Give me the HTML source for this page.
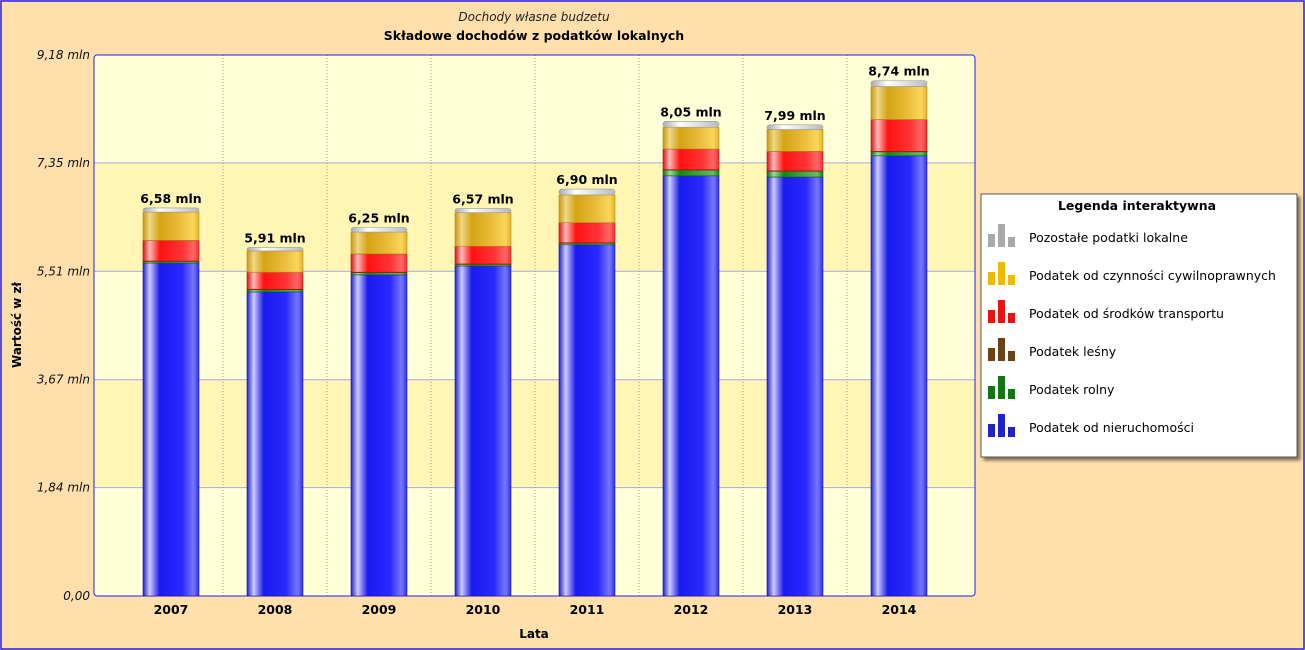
<!DOCTYPE html>
<html><head><meta charset="utf-8"><style>
body{margin:0;background:#FFDFAB;}
svg{display:block;font-family:"DejaVu Sans","Liberation Sans",sans-serif;}
</style></head><body>
<svg id="c" width="1305" height="650" viewBox="0 0 1305 650" xmlns="http://www.w3.org/2000/svg">
<defs>
<linearGradient id="gBlue" x1="0" x2="1"><stop offset="0" stop-color="#2222cc"/><stop offset="0.12" stop-color="#ccccff"/><stop offset="0.3" stop-color="#1a1aee"/><stop offset="0.7" stop-color="#2a2aff"/><stop offset="0.9" stop-color="#7777ff"/><stop offset="1" stop-color="#3333dd"/></linearGradient>
<linearGradient id="gGreen" x1="0" x2="1"><stop offset="0" stop-color="#116611"/><stop offset="0.12" stop-color="#99dd99"/><stop offset="0.3" stop-color="#118811"/><stop offset="0.9" stop-color="#66bb66"/><stop offset="1" stop-color="#227722"/></linearGradient>
<linearGradient id="gBrown" x1="0" x2="1"><stop offset="0" stop-color="#5a3a10"/><stop offset="0.5" stop-color="#8a5a20"/><stop offset="1" stop-color="#5a3a10"/></linearGradient>
<linearGradient id="gRed" x1="0" x2="1"><stop offset="0" stop-color="#dd1111"/><stop offset="0.12" stop-color="#ffbbbb"/><stop offset="0.3" stop-color="#ff1111"/><stop offset="0.7" stop-color="#ff3333"/><stop offset="0.9" stop-color="#ff6666"/><stop offset="1" stop-color="#ee3333"/></linearGradient>
<linearGradient id="gGold" x1="0" x2="1"><stop offset="0" stop-color="#c89a10"/><stop offset="0.12" stop-color="#f0d888"/><stop offset="0.3" stop-color="#d4a214"/><stop offset="0.7" stop-color="#eec040"/><stop offset="0.9" stop-color="#fad65a"/><stop offset="1" stop-color="#e2b430"/></linearGradient>
<linearGradient id="gGray" x1="0" x2="1"><stop offset="0" stop-color="#aaaaaa"/><stop offset="0.3" stop-color="#ffffff"/><stop offset="1" stop-color="#bbbbbb"/></linearGradient>
<filter id="sh" x="-5%" y="-5%" width="115%" height="115%"><feDropShadow dx="3" dy="3" stdDeviation="1.5" flood-color="#000" flood-opacity="0.5"/></filter>
</defs>
<rect x="1" y="1" width="1303" height="648" fill="#FFDFAB" stroke="#2222ee" stroke-width="1.5"/>
<text x="534" y="21" font-size="12" font-style="italic" text-anchor="middle" fill="#222">Dochody własne budzetu</text>
<text x="534" y="40" font-size="12.5" font-weight="bold" text-anchor="middle" fill="#000">Składowe dochodów z podatków lokalnych</text>
<g id="plot"></g>
<text x="534" y="638" font-size="12" font-weight="bold" text-anchor="middle">Lata</text>
<text transform="translate(21,325) rotate(-90)" font-size="12" font-weight="bold" text-anchor="middle">Wartość w zł</text>
<g id="legend"></g>
</svg>
<script>
const categories=["2007","2008","2009","2010","2011","2012","2013","2014"];
const seriesNames=["Podatek od nieruchomości","Podatek rolny","Podatek leśny","Podatek od środków transportu","Podatek od czynności cywilnoprawnych","Pozostałe podatki lokalne"];
const nieruchomosci=[5.65,5.16,5.45,5.60,5.96,7.13,7.11,7.47];
const rolny=[0.03,0.04,0.04,0.03,0.03,0.10,0.10,0.07];
const lesny=[0.005,0.005,0.005,0.005,0.005,0.005,0.005,0.005];
const transport=[0.35,0.29,0.31,0.30,0.34,0.35,0.33,0.54];
const czynnosci=[0.48,0.36,0.37,0.57,0.47,0.37,0.37,0.56];
const pozostale=[0.07,0.06,0.08,0.07,0.10,0.10,0.08,0.10];
const totalLabels=["6,58 mln","5,91 mln","6,25 mln","6,57 mln","6,90 mln","8,05 mln","7,99 mln","8,74 mln"];
const yTicks=[0,1.84,3.67,5.51,7.35,9.18];
const yTickLabels=["0,00","1,84 mln","3,67 mln","5,51 mln","7,35 mln","9,18 mln"];
const series=[nieruchomosci,rolny,lesny,transport,czynnosci,pozostale];
const fills=["url(#gBlue)","url(#gGreen)","url(#gBrown)","url(#gRed)","url(#gGold)","url(#gGray)"];
const edges=["#1111aa","#116611","#5a3a10","#bb1111","#b08a10","#999"];
const legendCols=["#2222cc","#117711","#6b4218","#ee1111","#f0b800","#aaaaaa"];
const X0=94,X1=975,Y0=596,Y1=55,YMAX=9.18;
const C0=119,C1=951;
const NS="http://www.w3.org/2000/svg";
const y=v=>Y0-(v/YMAX)*(Y0-Y1);
const bw=(C1-C0)/categories.length;
const xc=i=>C0+bw*(i+0.5);
function mk(tag,attrs,parent){const e=document.createElementNS(NS,tag);for(const k in attrs)e.setAttribute(k,attrs[k]);parent.appendChild(e);return e;}
const plot=document.getElementById('plot');
const bg=mk('rect',{x:X0,y:Y1,width:X1-X0,height:Y0-Y1,fill:"#FFFFD8"},plot);


for(let k=0;k<yTicks.length-1;k++){
  if(k%2===1){const b=mk('rect',{x:X0,y:y(yTicks[k+1]),width:X1-X0,height:y(yTicks[k])-y(yTicks[k+1]),fill:"#FFF5B4"},plot);
  
  }
}
yTicks.forEach((t,k)=>{
  if(k>0&&k<yTicks.length-1){const g=mk('line',{x1:X0,x2:X1,y1:y(t),y2:y(t),stroke:"#aaaadd","stroke-width":1},plot);
  
  }
  const tl=mk('text',{x:X0-4,y:y(t)+4,"font-size":12,"font-style":"italic","text-anchor":"end",fill:"#111"},plot);
  tl.textContent=yTickLabels[k];
  
  
});
for(let i=1;i<categories.length;i++){
  const v=mk('line',{x1:C0+bw*i,x2:C0+bw*i,y1:Y1,y2:Y0,stroke:"#999","stroke-dasharray":"1,2"},plot);
  
  
}
const border=mk('rect',{x:X0,y:Y1,width:X1-X0,height:Y0-Y1,fill:"none",stroke:"#2222ee","stroke-width":1,rx:3},plot);


const barW=56;
categories.forEach((c,i)=>{
  const g=mk('g',{},plot);
  
  
  let acc=0;const x=xc(i)-barW/2;
  series.forEach((s,j)=>{
    const v=s[i];const top=y(acc+v),bot=y(acc);
    const r=mk('rect',{x:x,y:top,width:barW,height:Math.max(bot-top,0.5),fill:fills[j],stroke:edges[j],"stroke-width":0.6,rx:(j===5?3:0)},g);
    
    
    acc+=v;
  });
  const lab=mk('text',{x:xc(i),y:y(acc)-5,"font-size":12.5,"font-weight":"bold","text-anchor":"middle",fill:"#000"},plot);
  lab.textContent=totalLabels[i];
  
  
  const xl=mk('text',{x:xc(i),y:Y0+18,"font-size":12.5,"font-weight":"bold","text-anchor":"middle",fill:"#000"},plot);
  xl.textContent=c;
  
  
});
const lg=document.getElementById('legend');
mk('rect',{x:981,y:194,width:316,height:263,fill:"#fff",stroke:"#555","stroke-width":1,filter:"url(#sh)"},lg);
const lt=mk('text',{x:1137,y:210,"font-size":12.5,"font-weight":"bold","text-anchor":"middle"},lg);
lt.textContent="Legenda interaktywna";


for(let k=0;k<6;k++){
  const j=5-k;const cy=238+k*38;
  const e=mk('g',{},lg);
  
  
  mk('rect',{x:988,y:cy-4,width:7,height:13,fill:legendCols[j]},e);
  mk('rect',{x:998,y:cy-14,width:7,height:23,fill:legendCols[j]},e);
  mk('rect',{x:1008,y:cy-1,width:7,height:10,fill:legendCols[j]},e);
  const t=mk('text',{x:1029,y:cy+4,"font-size":12.5,fill:"#000"},e);
  t.textContent=seriesNames[j];
}
</script>
</body></html>
